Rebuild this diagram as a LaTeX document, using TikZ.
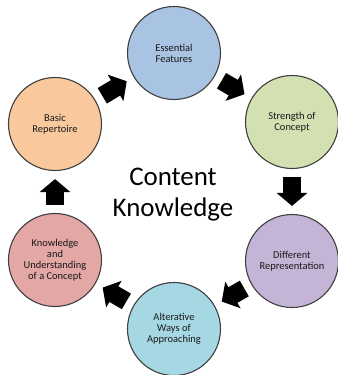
\documentclass[tikz,border=0pt]{standalone}
\usepackage{fontspec}
\setmainfont{Carlito}
\usetikzlibrary{arrows.meta}
\definecolor{featblue}{HTML}{A9C4E2}
\definecolor{strgreen}{HTML}{D3E0B2}
\definecolor{reppurple}{HTML}{C4B5D7}
\definecolor{waycyan}{HTML}{A6D8E4}
\definecolor{undpink}{HTML}{E3A7A5}
\definecolor{basorange}{HTML}{F9C89C}
\begin{document}
\begin{tikzpicture}[x=1bp,y=-1bp,shorten >=8bp,shorten <=8bp]
  \tikzstyle{topic}=[circle,draw=black!75,line width=1.1bp,minimum size=93bp,inner sep=0pt,align=center,font=\fontsize{10.5}{11}\selectfont,text=black!90]
  \tikzstyle{flow}=[line width=18bp,-{Triangle[width=30bp,length=13bp]}]
  \useasboundingbox (0,0) rectangle (338,375);
  \node[topic,fill=featblue] (C_1) at (174,53) {Essential\\Features};
  \node[topic,fill=strgreen] (C_2) at (292,122) {Strength of\\Concept};
  \node[topic,fill=reppurple] (C_3) at (292,261) {Different\\Representation};
  \node[topic,fill=waycyan] (C_4) at (174,329) {Alterative\\Ways of\\Approaching};
  \node[topic,fill=undpink] (C_5) at (55,260) {Knowledge\\and\\Understanding\\of a Concept};
  \node[topic,fill=basorange] (C_6) at (55,124) {Basic\\Repertoire};
  \node[align=center,font=\fontsize{27}{31}\selectfont] (K) at (173,195) {Content\\Knowledge};

  \draw[flow] (C_6) -- (C_1);
  \draw[flow] (C_1) -- (C_2);
  \draw[flow] (C_2) -- (C_3);
  \draw[flow] (C_3) -- (C_4);
  \draw[flow] (C_4) -- (C_5);
  \draw[flow] (C_5) -- (C_6);
\end{tikzpicture}
\end{document}
